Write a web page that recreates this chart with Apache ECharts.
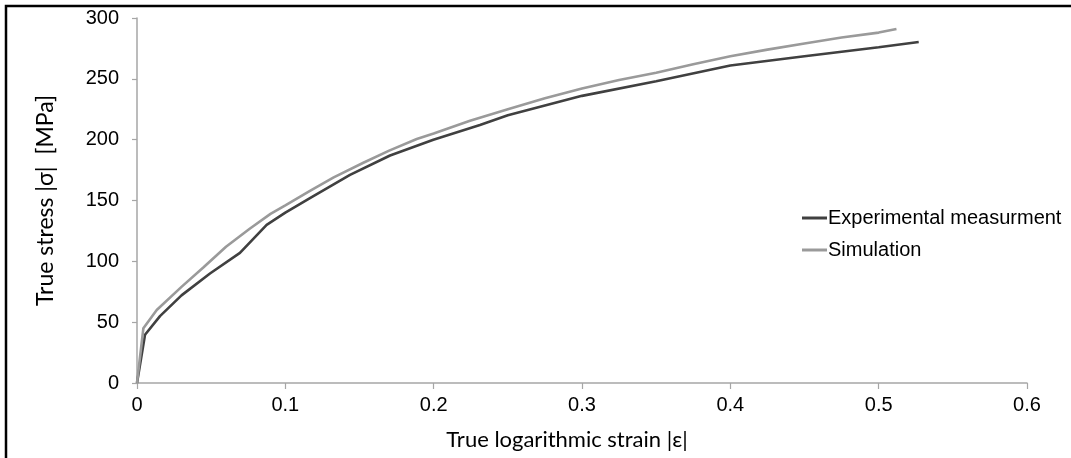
<!DOCTYPE html>
<html>
<head>
<meta charset="utf-8">
<script src="https://cdn.jsdelivr.net/npm/echarts@6/dist/echarts.min.js"></script>
<style>html,body{margin:0;padding:0;background:#fff}#c{width:1071px;height:458px}</style>
</head>
<body>
<div id="c"></div>
<script>
// Data
const expStrain = [0, 0.0054, 0.0155, 0.03, 0.0492, 0.0694, 0.0874, 0.1, 0.1166, 0.1436, 0.1706, 0.1998, 0.2312, 0.25, 0.30, 0.35, 0.40, 0.45, 0.50, 0.527];
const expStress = [0, 39.7, 55, 72, 90, 107, 130, 140, 152, 171, 187, 200, 212, 220, 236, 248, 261, 268.5, 276, 280.3];
const simStrain = [0, 0.0043, 0.0133, 0.03, 0.0447, 0.06, 0.0762, 0.09, 0.1, 0.1166, 0.1326, 0.1526, 0.17, 0.1886, 0.2, 0.2245, 0.25, 0.275, 0.30, 0.325, 0.35, 0.375, 0.40, 0.425, 0.45, 0.475, 0.50, 0.512];
const simStress = [0, 45, 60, 79, 95, 112, 127, 139, 146, 158, 169, 181, 191, 200.5, 205, 215.5, 225, 234, 242, 249, 255, 262, 268.5, 274, 279, 284, 288, 291];
const seriesNames = ['Experimental measurment', 'Simulation'];
const xTitle = 'True logarithmic strain |\u03b5|';
const yTitle = 'True stress |\u03c3|  [MPa]';

const zip = (a, b) => a.map((v, i) => [v, b[i]]);
const chart = echarts.init(document.getElementById('c'), null, {renderer: 'canvas'});
chart.setOption({
  animation: false,
  backgroundColor: '#fff',
  grid: {left: 137, right: 44, top: 18, bottom: 75},
  legend: {
    orient: 'vertical', left: 797, top: 203, itemGap: 12,
    itemWidth: 25, itemHeight: 3,
    icon: 'rect',
    textStyle: {fontFamily: 'Liberation Sans, Arial', fontSize: 20, color: '#000', padding: [0, 0, 0, -4]},
    data: seriesNames
  },
  graphic: [{
    type: 'rect', silent: true,
    shape: {x: 6, y: 6, width: 1100, height: 500},
    style: {fill: 'none', stroke: '#000', lineWidth: 2.5}
  }],
  xAxis: {
    type: 'value', min: 0, max: 0.6, interval: 0.1,
    name: xTitle, nameLocation: 'middle', nameGap: 46,
    nameTextStyle: {fontFamily: 'Lato, Open Sans', fontSize: 22, color: '#000', padding: [0, 30, 0, 0]},
    axisLine: {lineStyle: {color: '#a6a6a6', width: 1.5}},
    axisTick: {length: 6, lineStyle: {color: '#a6a6a6', width: 1.2}},
    splitLine: {show: false},
    axisLabel: {fontFamily: 'Liberation Sans, Arial', fontSize: 20, color: '#000', margin: 12,
      formatter: v => String(Math.round(v * 10) / 10)}
  },
  yAxis: {
    type: 'value', min: 0, max: 300, interval: 50,
    name: yTitle, nameLocation: 'middle', nameGap: 80, nameRotate: 90,
    nameTextStyle: {fontFamily: 'Lato, Open Sans', fontSize: 23, color: '#000'},
    axisLine: {show: true, lineStyle: {color: '#a6a6a6', width: 1.5}},
    axisTick: {show: true, length: 5, lineStyle: {color: '#a6a6a6', width: 1.2}},
    splitLine: {show: false},
    axisLabel: {fontFamily: 'Liberation Sans, Arial', fontSize: 20, color: '#000', margin: 18}
  },
  series: [
    {name: seriesNames[0], type: 'line', data: zip(expStrain, expStress), showSymbol: false,
     lineStyle: {color: '#404040', width: 2.6}, itemStyle: {color: '#404040'}},
    {name: seriesNames[1], type: 'line', data: zip(simStrain, simStress), showSymbol: false,
     lineStyle: {color: '#9a9a9a', width: 2.6}, itemStyle: {color: '#9a9a9a'}}
  ]
});
</script>
</body>
</html>
